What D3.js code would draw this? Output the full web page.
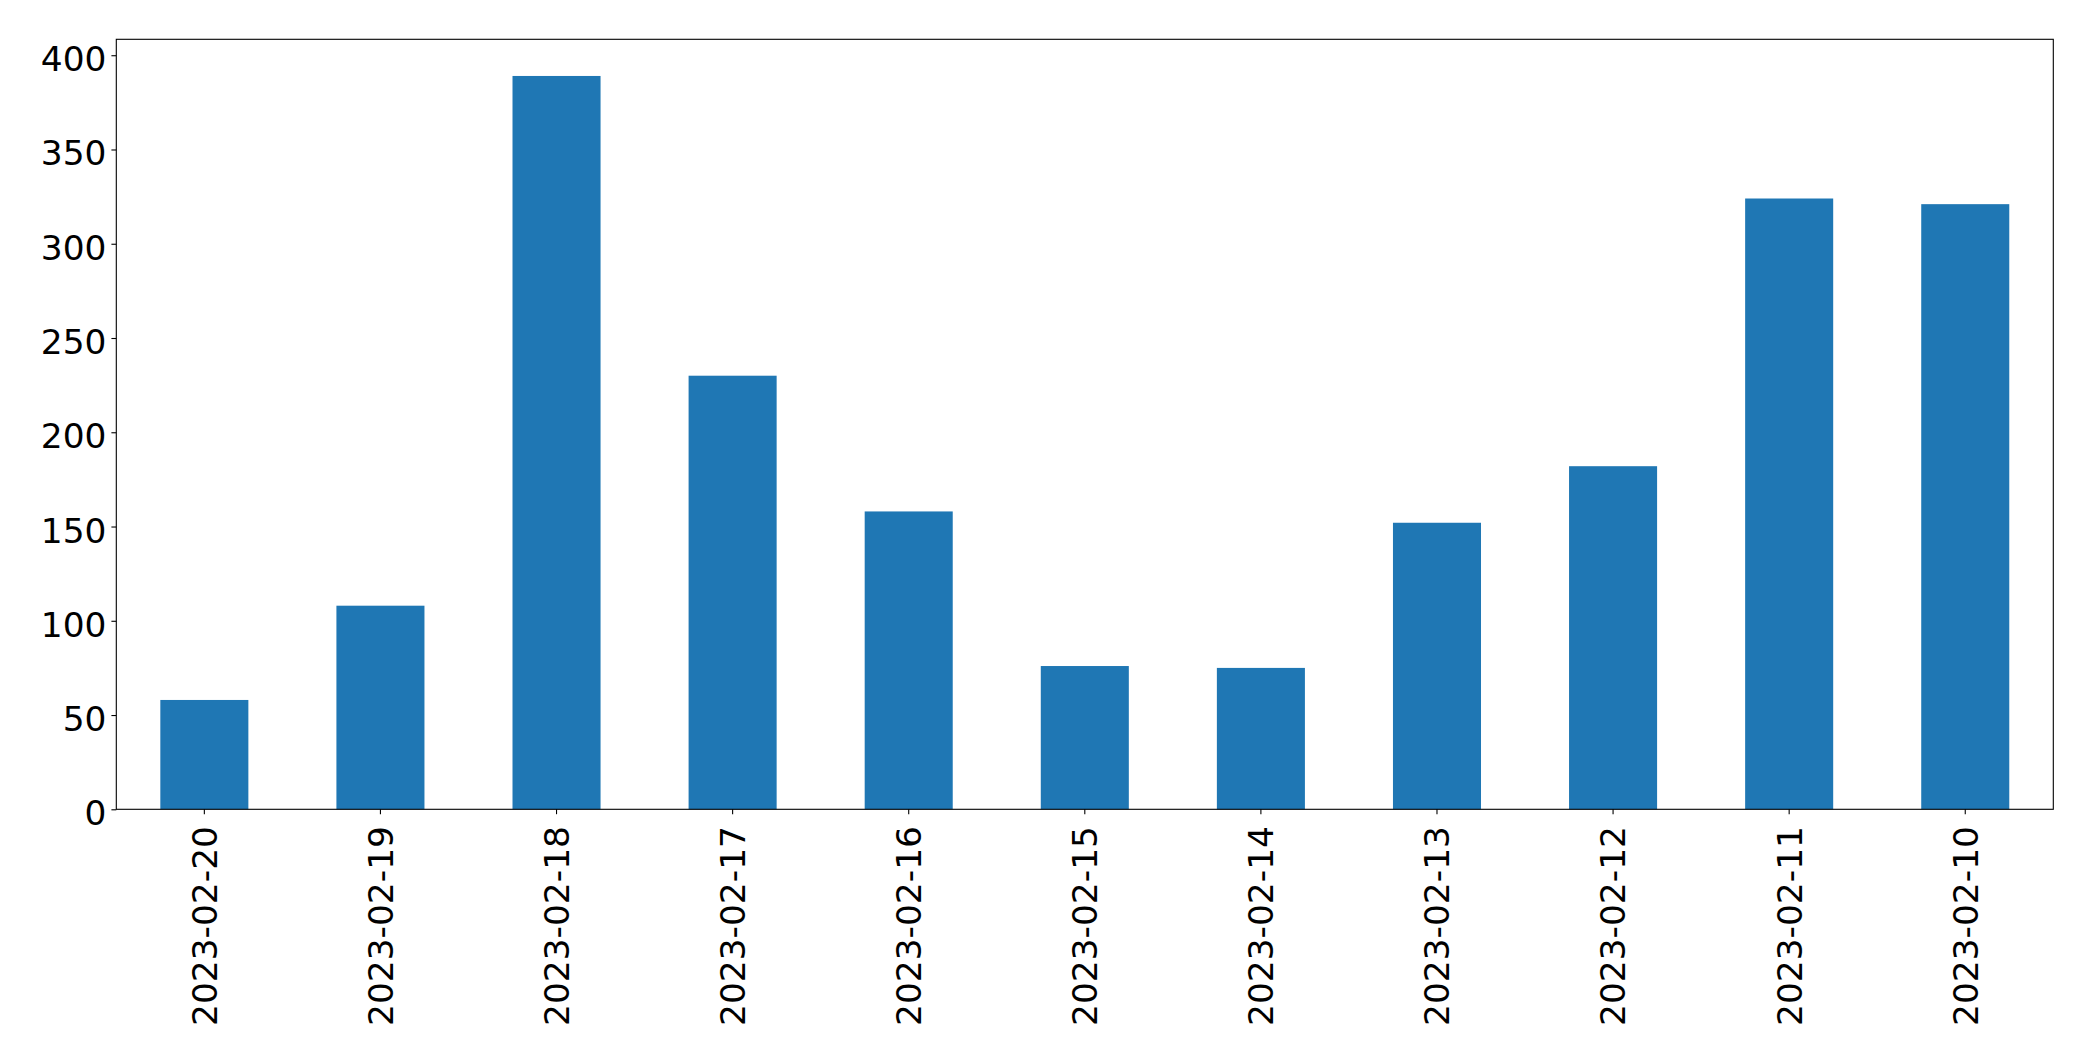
<!DOCTYPE html>
<html>
<head>
<meta charset="utf-8">
<script src="https://cdn.jsdelivr.net/npm/d3@7"></script>
<style>
  html, body { margin: 0; padding: 0; background: #fff; }
  svg { display: block; }
  text { font-family: "DejaVu Sans", sans-serif; fill: #000; }
</style>
</head>
<body>
<script>
const categories = ["2023-02-20","2023-02-19","2023-02-18","2023-02-17","2023-02-16","2023-02-15","2023-02-14","2023-02-13","2023-02-12","2023-02-11","2023-02-10"];
const values = [58, 108, 389, 230, 158, 76, 75, 152, 182, 324, 321];
const yTicks = [0, 50, 100, 150, 200, 250, 300, 350, 400];

const W = 2093, H = 1061;
const margin = { left: 116.3, right: W - 2053.3, top: 39.3, bottom: H - 809.3 };
const fontSize = 34.4;
const tickLen = 4.9, pad = 4.9;

const svg = d3.select("body").append("svg").attr("width", W).attr("height", H);

const x = d3.scaleBand().domain(categories)
  .range([margin.left, W - margin.right]).paddingInner(0.5).paddingOuter(0.25);
const yMax = d3.max(values) * 1.05;
const y = d3.scaleLinear().domain([0, yMax]).range([H - margin.bottom, margin.top]);

svg.append("g").selectAll("rect").data(values).join("rect")
  .attr("x", (d, i) => x(categories[i]))
  .attr("width", x.bandwidth())
  .attr("y", d => y(d))
  .attr("height", d => y(0) - y(d))
  .attr("fill", "#1f77b4");

// Y axis
const yAxis = svg.append("g").attr("transform", `translate(${margin.left},0)`)
  .call(d3.axisLeft(y).tickValues(yTicks).tickSize(tickLen).tickPadding(pad).tickFormat(d3.format("d")));
yAxis.select(".domain").remove();
yAxis.selectAll("line").attr("stroke", "#000").attr("stroke-width", 1.1);
yAxis.selectAll("text").attr("font-size", fontSize).attr("font-family", "DejaVu Sans").attr("dy", "0.45em");

// X axis
const xAxis = svg.append("g").attr("transform", `translate(0,${H - margin.bottom})`)
  .call(d3.axisBottom(x).tickSize(tickLen).tickPadding(pad));
xAxis.select(".domain").remove();
xAxis.selectAll("line").attr("stroke", "#000").attr("stroke-width", 1.1);
xAxis.selectAll("text")
  .attr("font-size", fontSize).attr("font-family", "DejaVu Sans")
  .attr("text-anchor", "end")
  .attr("transform", "rotate(-90)")
  .attr("x", -(tickLen + pad + 7))
  .attr("y", 0)
  .attr("dy", "0.36em");

// Frame (spines)
svg.append("rect")
  .attr("x", margin.left).attr("y", margin.top)
  .attr("width", W - margin.right - margin.left)
  .attr("height", H - margin.bottom - margin.top)
  .attr("fill", "none").attr("stroke", "#000").attr("stroke-width", 1.1);
</script>
</body>
</html>
